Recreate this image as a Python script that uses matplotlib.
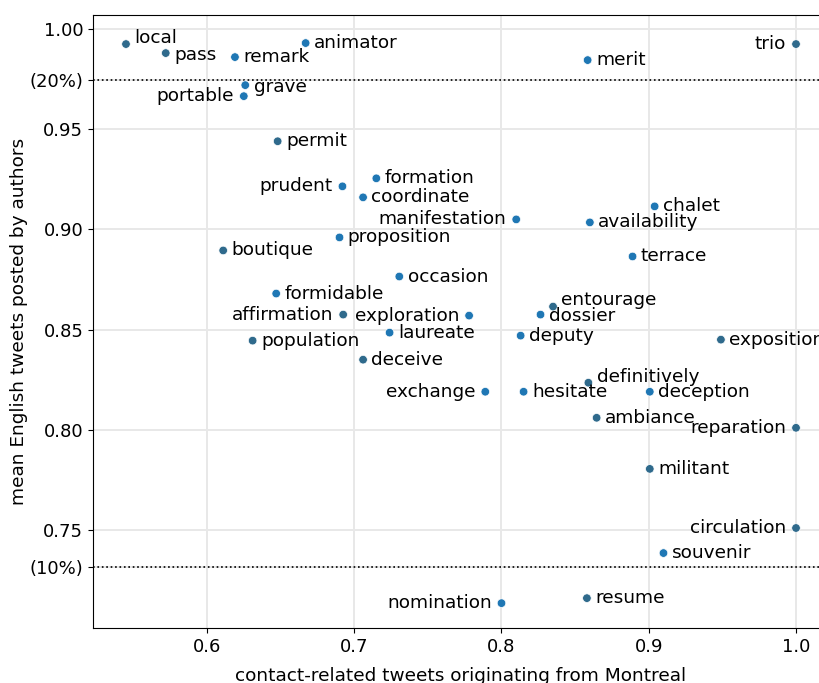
import matplotlib
matplotlib.use("Agg")
import matplotlib.pyplot as plt

# words and their coordinates
words = ['local', 'pass', 'remark', 'animator', 'grave', 'portable', 'permit',
         'prudent', 'formation', 'coordinate', 'merit', 'trio', 'boutique',
         'proposition', 'occasion', 'formidable', 'affirmation', 'population',
         'laureate', 'deceive', 'manifestation', 'chalet', 'availability',
         'terrace', 'entourage', 'dossier', 'exploration', 'deputy', 'exposition',
         'definitively', 'hesitate', 'exchange', 'deception', 'ambiance',
         'reparation', 'militant', 'circulation', 'souvenir', 'nomination', 'resume']
montreal = [0.545, 0.572, 0.619, 0.667, 0.626, 0.625, 0.648,
            0.692, 0.715, 0.706, 0.8585, 1.0, 0.611,
            0.690, 0.7306, 0.647, 0.6925, 0.631,
            0.724, 0.706, 0.810, 0.904, 0.860,
            0.889, 0.835, 0.8265, 0.778, 0.813, 0.949,
            0.859, 0.815, 0.789, 0.9007, 0.8646,
            1.0, 0.9007, 1.0, 0.910, 0.800, 0.858]
english = [0.9925, 0.988, 0.986, 0.993, 0.972, 0.9665, 0.944,
           0.9215, 0.9255, 0.916, 0.9845, 0.9925, 0.8895,
           0.896, 0.8765, 0.868, 0.8575, 0.8445,
           0.8485, 0.835, 0.905, 0.9115, 0.9035,
           0.8865, 0.8615, 0.8575, 0.857, 0.847, 0.845,
           0.8235, 0.819, 0.819, 0.819, 0.806,
           0.801, 0.7805, 0.751, 0.7385, 0.7135, 0.716]

pct20 = 0.9746
pct10 = 0.7317

# labels placed on the left of their point
left_side = {'portable', 'prudent', 'manifestation', 'affirmation', 'exploration',
             'exchange', 'trio', 'reparation', 'circulation', 'nomination'}
# vertical nudges (pixels, + is up)
nudge = {'local': 6, 'definitively': 6, 'entourage': 7, 'grave': -2, 'pass': -2,
         'dossier': -1}
darker = {'local', 'pass', 'permit', 'boutique', 'population', 'deceive',
          'exposition', 'definitively', 'entourage', 'circulation', 'reparation',
          'trio', 'militant', 'ambiance', 'resume', 'affirmation'}

fs = 13.3

fig = plt.figure(figsize=(8.2, 6.83), dpi=100)
ax = fig.add_axes([93 / 820, 55 / 683, 736 / 820, 613 / 683])

colors = ['#2f6a8c' if w in darker else '#1f77b4' for w in words]
ax.scatter(montreal, english, s=38, c=colors, edgecolor='white', linewidth=0.5, zorder=3)

for w, x, y in zip(words, montreal, english):
    dy = nudge.get(w, 0) * 0.72
    if w in left_side:
        ax.annotate(w, (x, y), xytext=(-7, dy), textcoords='offset points',
                    ha='right', va='center', fontsize=fs, zorder=4)
    else:
        ax.annotate(w, (x, y), xytext=(6, dy), textcoords='offset points',
                    ha='left', va='center', fontsize=fs, zorder=4)

ax.axhline(pct20, color='black', linestyle=':', linewidth=1.2, zorder=2)
ax.axhline(pct10, color='black', linestyle=':', linewidth=1.2, zorder=2)

ax.set_xlim(0.5226, 1.0224)
ax.set_ylim(0.7011, 1.007)
ax.set_xticks([0.6, 0.7, 0.8, 0.9, 1.0])
ax.set_xticklabels(['0.6', '0.7', '0.8', '0.9', '1.0'])
ax.set_yticks([0.75, pct10, 0.80, 0.85, 0.90, 0.95, pct20, 1.00])
ax.set_yticklabels(['0.75', '(10%)', '0.80', '0.85', '0.90', '0.95', '(20%)', '1.00'])
ax.tick_params(labelsize=13)
ax.grid(True, color='#e8e8e8', linewidth=1.4, zorder=0)
ax.set_axisbelow(True)
ax.spines['right'].set_visible(False)

ax.set_xlabel('contact-related tweets originating from Montreal', fontsize=fs, labelpad=8)
ax.set_ylabel('mean English tweets posted by authors', fontsize=fs, labelpad=1)

fig.savefig('out.png', dpi=100)
